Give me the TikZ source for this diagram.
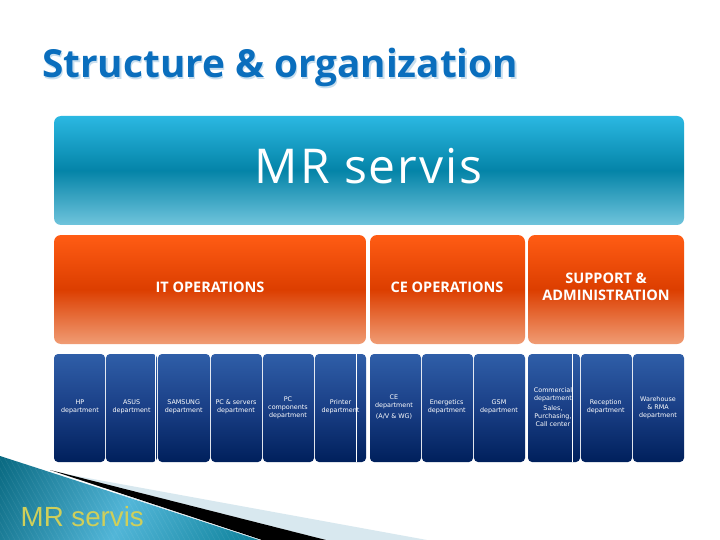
\documentclass[tikz,border=0pt]{standalone}
\usepackage{fontspec}
\setmainfont{Open Sans}
\newfontfamily\smallfont{DejaVu Sans}
\newfontfamily\armfont{Liberation Sans}
\definecolor{bluetop}{HTML}{2BB8E2}
\definecolor{bluemid}{HTML}{0484A8}
\definecolor{bluebot}{HTML}{70C4DC}
\definecolor{ortop}{HTML}{FF5C14}
\definecolor{ormid}{HTML}{DC3E00}
\definecolor{orbot}{HTML}{F09C74}
\definecolor{navytop}{HTML}{2F5EA8}
\definecolor{navymid}{HTML}{1A3F86}
\definecolor{navybot}{HTML}{00205C}
\definecolor{titleblue}{HTML}{0A6EBD}
\definecolor{titleshadow}{HTML}{C8DEEE}
\definecolor{paleband}{HTML}{D8E8EF}
\definecolor{tealdark}{HTML}{0A6A82}
\definecolor{teallight}{HTML}{52B6D8}
\definecolor{tealright}{HTML}{0C8099}
\definecolor{brandyellow}{HTML}{CFCF5A}
\tikzset{
  x=1pt,y=-1pt,
  box/.style={draw=none,inner sep=0pt,outer sep=0pt,rectangle,anchor=north west},
  bluebox/.style={box,rounded corners=7pt,top color=bluetop,bottom color=bluebot,middle color=bluemid},
  orbox/.style={box,rounded corners=7pt,top color=ortop,bottom color=orbot,middle color=ormid,minimum height=109pt},
  navybox/.style={box,rounded corners=4pt,top color=navytop,bottom color=navybot,middle color=navymid,minimum height=108pt},
  head/.style={text=white,font=\bfseries\fontsize{14.5}{16}\selectfont,align=center,inner sep=0pt},
  dept/.style={text=white,font=\smallfont\fontsize{6.4}{8}\selectfont,align=center,inner sep=0pt},
  divider/.style={draw=white,line width=1pt},
}
\begin{document}
\begin{tikzpicture}
\useasboundingbox (0,0) rectangle (720,540);
\fill[white] (0,0) rectangle (720,540);
% title
\node[anchor=base west,inner sep=0pt,text=titleshadow,font=\bfseries\fontsize{38.7}{48}\selectfont] (titleshade) at (43.5,79.5) {Structure \& organization};
\node[anchor=base west,inner sep=0pt,text=titleblue,font=\bfseries\fontsize{38.7}{48}\selectfont] (title) at (42,78) {Structure \& organization};
% top box
\node[bluebox,minimum width=630pt,minimum height=109pt] (main) at (54,116) {};
\node[inner sep=0pt,text=white,font=\fontsize{48}{58}\selectfont\addfontfeature{LetterSpace=4}] (maintext) at (368.5,166) {MR servis};
% orange boxes
\node[orbox,minimum width=312pt] (it) at (54,235) {};
\node[orbox,minimum width=155pt] (ce) at (370,235) {};
\node[orbox,minimum width=156pt] (sup) at (528,235) {};
\node[head] (ittext) at (210,287.5) {IT OPERATIONS};
\node[head] (cetext) at (447,287.5) {CE OPERATIONS};
\node[head] (suptext) at (606,287) {SUPPORT \&\\[0.5pt]ADMINISTRATION};
% navy boxes
\node[navybox,minimum width=51pt] (b1) at (54,354) {};
\node[navybox,minimum width=51pt] (b2) at (106,354) {};
\node[navybox,minimum width=52pt] (b3) at (158,354) {};
\node[navybox,minimum width=51pt] (b4) at (211,354) {};
\node[navybox,minimum width=51pt] (b5) at (263,354) {};
\node[navybox,minimum width=51pt] (b6) at (315,354) {};
\node[navybox,minimum width=51pt] (b7) at (370,354) {};
\node[navybox,minimum width=51pt] (b8) at (422,354) {};
\node[navybox,minimum width=51pt] (b9) at (474,354) {};
\node[navybox,minimum width=52pt] (b10) at (528,354) {};
\node[navybox,minimum width=51pt] (b11) at (581,354) {};
\node[navybox,minimum width=51pt] (b12) at (633,354) {};
% texts
\node[dept] (t1) at (80,407) {HP\\department};
\node[dept] (t2) at (131.6,407) {ASUS\\department};
\node[dept] (t3) at (183.7,407) {SAMSUNG\\department};
\node[dept] (t4) at (236,407) {PC \& servers\\department};
\node[dept] (t5) at (288,407.5) {PC\\components\\department};
\node[dept] (t6) at (340.5,407) {Printer\\department};
\node[dept] (t7a) at (394,402) {CE\\department};
\node[dept] (t7b) at (394,416) {(A/V \& WG)};
\node[dept] (t8) at (446.7,407) {Energetics\\department};
\node[dept] (t9) at (499,407) {GSM\\department};
\node[dept] (t10a) at (553,394.5) {Commercial\\department};
\node[dept] (t10b) at (553,416.5) {Sales,\\Purchasing,\\Call center};
\node[dept] (t11) at (605.7,407) {Reception\\department};
\node[dept] (t12) at (658,407.5) {Warehouse\\\& RMA\\department};
% dividers inside navy boxes
\draw[divider] (155.5,354) -- (155.5,462);
\draw[divider] (356.5,354) -- (356.5,462);
\draw[divider] (572,354) -- (572,462);
% footer swoosh
\fill[paleband] (60,473) -- (427,540) -- (326,540) -- cycle;
\fill[black] (50,470) -- (326,540) -- (262,540) -- cycle;
\begin{scope}
  \clip (0,456) -- (260,540) -- (0,540) -- cycle;
  \shade[left color=tealdark,right color=tealright,middle color=teallight,shading angle=65] (-40,440) rectangle (300,560);
  \foreach \i in {-100,-95,...,260}
    \draw[white,opacity=0.08,line width=0.5pt] (\i,450) -- (\i+50,540);
\end{scope}
\draw[paleband,line width=0.5pt] (120,494) -- (260,540);
\node[anchor=base west,inner sep=0pt,text=brandyellow,font=\armfont\fontsize{27.7}{32}\selectfont] (brand) at (20.5,526) {MR servis};
\end{tikzpicture}
\end{document}
